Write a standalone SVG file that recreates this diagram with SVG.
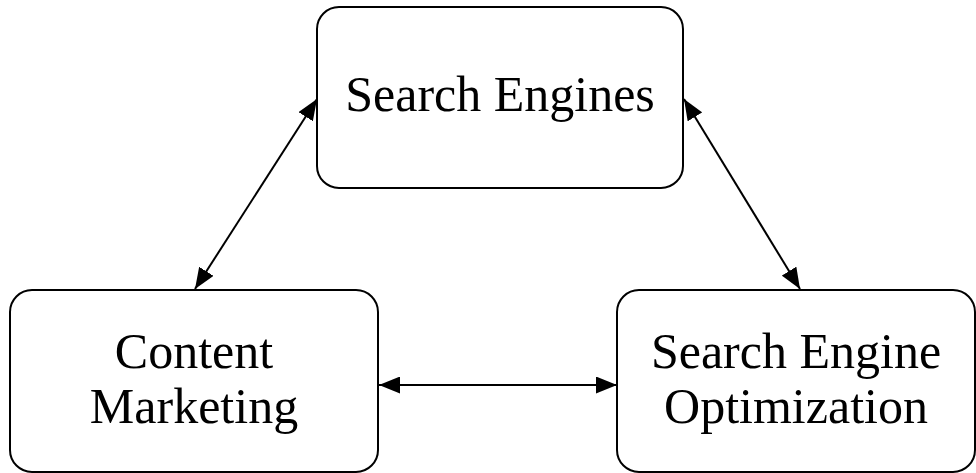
<svg xmlns="http://www.w3.org/2000/svg" width="976" height="473" viewBox="0 0 976 473">
<defs>
<marker id="ah" viewBox="0 0 21 17" refX="21" refY="8.5" markerWidth="21" markerHeight="17" markerUnits="userSpaceOnUse" orient="auto-start-reverse">
<path d="M0,0 L21,8.5 L0,17 z" fill="#000"/>
</marker>
<style>
.box{fill:#fff;stroke:#000;stroke-width:2}
.lbl{font-family:"Liberation Serif","Times New Roman",serif;font-size:50px;fill:#000;text-anchor:middle}
.con{stroke:#000;stroke-width:2;fill:none;marker-start:url(#ah);marker-end:url(#ah)}
</style>
</defs>
<rect width="976" height="473" fill="#fff"/>
<g id="connectors">
<line class="con" x1="195" y1="289" x2="317" y2="99"/>
<line class="con" x1="684" y1="99" x2="800" y2="289"/>
<line class="con" x1="379" y1="385" x2="617" y2="385"/>
</g>
<g id="search-engines">
<rect class="box" x="317" y="7" width="366" height="181" rx="22"/>
<text class="lbl" x="500" y="111">Search Engines</text>
</g>
<g id="content-marketing">
<rect class="box" x="10" y="290" width="368" height="182" rx="22"/>
<text class="lbl" x="194" y="368">Content</text>
<text class="lbl" x="194" y="423">Marketing</text>
</g>
<g id="seo">
<rect class="box" x="617" y="290" width="358" height="182" rx="22"/>
<text class="lbl" x="796" y="368">Search Engine</text>
<text class="lbl" x="796" y="423">Optimization</text>
</g>
</svg>
